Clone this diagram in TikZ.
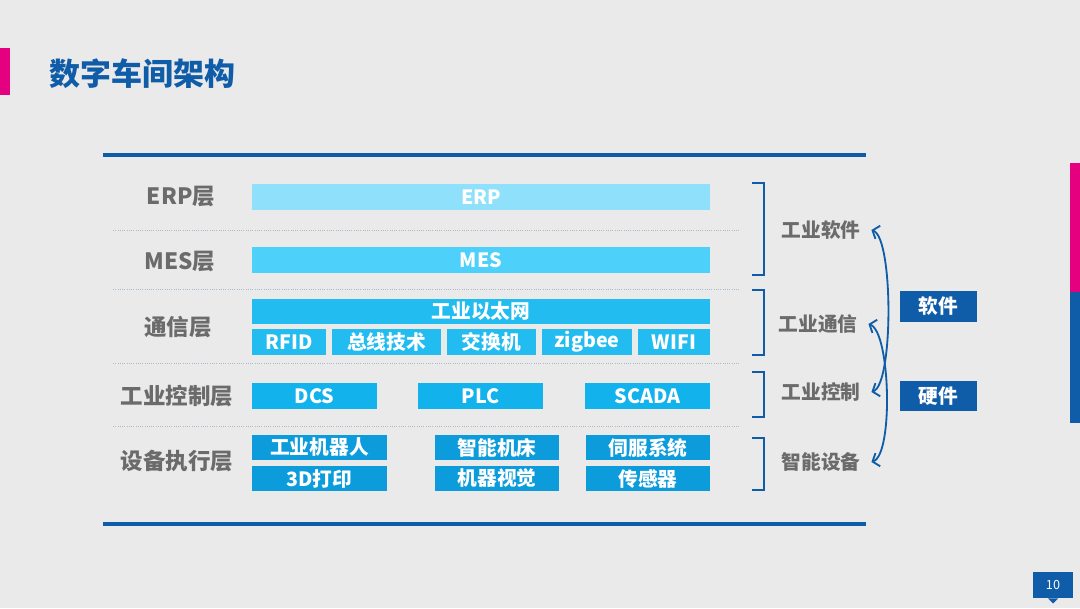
\documentclass[tikz,border=0pt]{standalone}
\usepackage{fontspec}
\setmainfont{Noto Sans CJK SC}
\usepackage{tikz}
\usetikzlibrary{arrows.meta}
\definecolor{navy}{HTML}{0F5CA8}
\definecolor{pinkbar}{HTML}{E4007F}
\definecolor{labgray}{HTML}{6B6B6B}
\definecolor{bgc}{HTML}{EAEAEA}
\definecolor{sepc}{HTML}{A9BACB}
\definecolor{erpc}{HTML}{8EE0FB}
\definecolor{mesc}{HTML}{4DD0FA}
\definecolor{netc}{HTML}{22BCF1}
\definecolor{ctlc}{HTML}{12B2EC}
\definecolor{devc}{HTML}{0C9CDB}

\begin{document}
\begin{tikzpicture}[x=0.025cm, y=-0.025cm,
        layer/.style = {text=labgray, font=\fontsize{16}{16}\selectfont\bfseries},
        bar/.style = {fill=#1, text=white, inner sep=0pt, minimum height=0.65cm, font=\fontsize{14}{14}\selectfont\bfseries},
        side/.style = {text=labgray, inner xsep=0.27cm, font=\fontsize{14}{14}\selectfont\bfseries},
        tag/.style = {fill=navy, text=white, inner sep=0pt, minimum width=1.925cm, minimum height=0.76cm, font=\fontsize{14}{14}\selectfont\bfseries},
        brk/.style = {draw=navy, line width=1.3pt},
        brace/.style = {draw=navy, line width=1.3pt, {Straight Barb[length=4pt, width=10pt]}-{Straight Barb[length=4pt, width=10pt]}},
        sep/.style = {draw=sepc, densely dotted, line width=0.6pt},
        rule/.style = {draw=navy, line width=2.8pt}]

    % background and side marks
    \fill[bgc] (0,0) rectangle (1080,608);
    \useasboundingbox (0,0) rectangle (1080,608);
    \fill[pinkbar] (0,48) rectangle (10,95);
    \fill[pinkbar] (1070,163) rectangle (1080,292);
    \fill[navy] (1070,292) rectangle (1080,423);

    \node[text=navy, anchor=west, font=\fontsize{22}{22}\selectfont\bfseries] (title) at (45,74) {数字车间架构};

    \draw[rule] (103,155) -- (866,155);
    \draw[rule] (103,524) -- (866,524);
    \draw[sep] (113,230) -- (740,230); \draw[sep] (113,289) -- (740,289);
    \draw[sep] (113,363) -- (740,363); \draw[sep] (113,426) -- (740,426);

    % layer names
    \node[layer] (lerp) at (181,197) {ERP层};
    \node[layer] (lmes) at (180,262) {MES层};
    \node[layer] (lnet) at (178,327) {通信层};
    \node[layer] (lctl) at (177,396) {工业控制层};
    \node[layer] (ldev) at (177,461) {设备执行层};

    % layer contents
    \node[bar=erpc, minimum width=11.45cm] (erp) at (481,197) {ERP};
    \node[bar=mesc, minimum width=11.45cm] (mes) at (481,260) {MES};
    \node[bar=netc, minimum width=11.45cm, minimum height=0.625cm] (eth) at (481,311.5) {工业以太网};
    \node[bar=netc, minimum width=1.85cm] (rfid) at (289,342) {RFID};
    \node[bar=netc, minimum width=2.725cm] (bus) at (386.5,342) {总线技术};
    \node[bar=netc, minimum width=2.225cm] (swi) at (491.5,342) {交换机};
    \node[bar=netc, minimum width=2.25cm] (zig) at (587,342) {zigbee};
    \node[bar=netc, minimum width=1.8cm] (wifi) at (674,342) {WIFI};
    \node[bar=ctlc, minimum width=3.125cm] (dcs) at (314.5,396) {DCS};
    \node[bar=ctlc, minimum width=3.125cm] (plc) at (480.5,396) {PLC};
    \node[bar=ctlc, minimum width=3.125cm] (scada) at (647.5,396) {SCADA};
    \node[bar=devc, minimum width=3.375cm, minimum height=0.625cm] (robot) at (319.5,447.5) {工业机器人};
    \node[bar=devc, minimum width=3.1cm, minimum height=0.625cm] (cnc) at (497,447.5) {智能机床};
    \node[bar=devc, minimum width=3.1cm, minimum height=0.625cm] (servo) at (648,447.5) {伺服系统};
    \node[bar=devc, minimum width=3.375cm, minimum height=0.625cm] (print) at (319.5,478.5) {3D打印};
    \node[bar=devc, minimum width=3.1cm, minimum height=0.625cm] (vision) at (497,478.5) {机器视觉};
    \node[bar=devc, minimum width=3.1cm, minimum height=0.625cm] (sensor) at (648,478.5) {传感器};

    % brackets
    \draw[brk] (752,183) -- (764,183) -- (764,275) -- (752,275);
    \draw[brk] (752,290) -- (764,290) -- (764,355) -- (752,355);
    \draw[brk] (752,372) -- (764,372) -- (764,417) -- (752,417);
    \draw[brk] (752,438) -- (764,438) -- (764,490) -- (752,490);

    \node[side] (sw) at (821,230) {工业软件};
    \node[side] (com) at (818,324) {工业通信};
    \node[side] (ctl) at (821,392) {工业控制};
    \node[side] (dev) at (821,462) {智能设备};

    \draw[brace] (sw.east) .. controls +(22,8) and +(22,-8) .. (ctl.east);
    \draw[brace] (com.east) .. controls +(22,8) and +(22,-8) .. (dev.east);

    \node[tag] (soft) at (938.5,306.5) {软件};
    \node[tag] (hard) at (938.5,396) {硬件};

    % page number
    \node[fill=navy, text=white, inner sep=0pt, minimum width=1cm, minimum height=0.65cm, font=\fontsize{9}{9}\selectfont] (page) at (1053,585) {10};
    \fill[navy] ([xshift=-0.13cm]page.south) -- ([xshift=0.13cm]page.south) -- ([yshift=-0.13cm]page.south) -- cycle;
\end{tikzpicture}
\end{document}
